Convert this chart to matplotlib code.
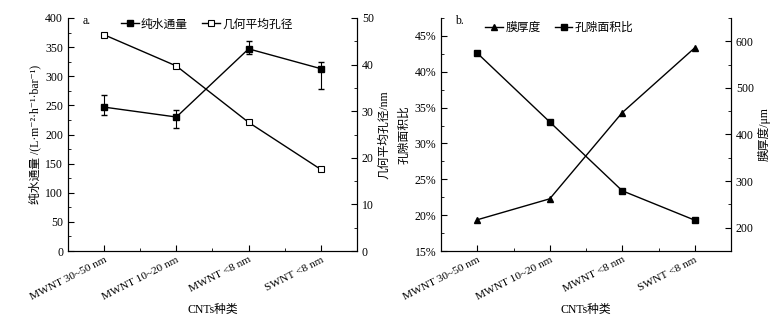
import numpy as np
import matplotlib
matplotlib.use('Agg')
import matplotlib.pyplot as plt
from matplotlib.ticker import MultipleLocator, FuncFormatter
from matplotlib.lines import Line2D

plt.rcParams['font.family'] = ['Liberation Serif', 'Noto Sans CJK SC', 'DejaVu Sans']
plt.rcParams['font.size'] = 8

# data
categories = ['MWNT 30~50 nm', 'MWNT 10~20 nm', 'MWNT <8 nm', 'SWNT <8 nm']
flux = [247, 230, 347, 313]
flux_err_low = [14, 19, 9, 35]
flux_err_high = [20, 12, 13, 11]
pore_size = [46.4, 39.7, 27.6, 17.5]
area_ratio = [42.6, 33.0, 23.4, 19.3]
thickness = [217, 262, 447, 586]

fig = plt.figure(figsize=(7.83, 3.26), dpi=100)
W, H = 783, 326
ax1 = fig.add_axes([68 / W, (H - 251) / H, (357 - 68) / W, (251 - 18) / H])
ax3 = fig.add_axes([441 / W, (H - 251) / H, (731 - 441) / W, (251 - 18) / H])
x = np.arange(len(categories))
fs = 8.5


def style(ax, tw):
    for a in (ax, tw):
        a.tick_params(which='both', direction='in', labelsize=8.5)
        a.tick_params(which='major', length=4)
        a.tick_params(which='minor', length=2)
        a.spines['top'].set_visible(False)
    ax.set_xlim(-0.5, 3.5)
    ax.set_xticks(x)
    ax.set_xticks(x[:-1] + 0.5, minor=True)
    ax.set_xticklabels(categories, rotation=27, ha='right', rotation_mode='anchor', fontsize=8.2)
    ax.tick_params(axis='x', which='major', pad=3)
    ax.set_xlabel('CNTs种类', fontsize=fs, labelpad=1.5)
    ax.tick_params(axis='x', which='both', top=False)


# panel a
tw1 = ax1.twinx()
ax1.errorbar(x, flux, yerr=[flux_err_low, flux_err_high], color='black', lw=1,
             marker='s', ms=5, mfc='black', capsize=2, elinewidth=0.8, zorder=3)
tw1.plot(x, pore_size, color='black', lw=1, marker='s', ms=5, mfc='white', mew=0.8)
ax1.set_ylim(0, 400)
ax1.yaxis.set_major_locator(MultipleLocator(50))
ax1.yaxis.set_minor_locator(MultipleLocator(25))
tw1.set_ylim(0, 50)
tw1.yaxis.set_major_locator(MultipleLocator(10))
tw1.yaxis.set_minor_locator(MultipleLocator(5))
ax1.set_ylabel('纯水通量 /(L·m⁻²·h⁻¹·bar⁻¹)', fontsize=fs, labelpad=3)
tw1.set_ylabel('几何平均孔径/nm', fontsize=fs, labelpad=3)
style(ax1, tw1)
ax1.text(0.05, 0.985, 'a.', transform=ax1.transAxes, va='center', fontsize=fs)
h1 = [Line2D([], [], color='black', lw=1, marker='s', ms=4, mfc='black'),
      Line2D([], [], color='black', lw=1, marker='s', ms=4, mfc='white', mew=0.8)]
ax1.legend(h1, ['纯水通量', '几何平均孔径'], loc='center', bbox_to_anchor=(0.48, 0.972),
           ncol=2, frameon=False, fontsize=fs, handlelength=1.5, handletextpad=0.2,
           columnspacing=1.2)

# panel b
tw3 = ax3.twinx()
ax3.plot(x, area_ratio, color='black', lw=1, marker='s', ms=5, mfc='black')
tw3.plot(x, thickness, color='black', lw=1, marker='^', ms=5, mfc='black')
ax3.set_ylim(15, 47.5)
ax3.yaxis.set_major_locator(MultipleLocator(5))
ax3.yaxis.set_minor_locator(MultipleLocator(2.5))
ax3.yaxis.set_major_formatter(FuncFormatter(lambda v, p: f'{v:.0f}%'))
tw3.set_ylim(150, 650)
tw3.yaxis.set_major_locator(MultipleLocator(100))
tw3.yaxis.set_minor_locator(MultipleLocator(50))
tw3.set_yticks([200, 300, 400, 500, 600])
ax3.set_ylabel('孔隙面积比', fontsize=fs, labelpad=3)
tw3.set_ylabel('膜厚度/μm', fontsize=fs, labelpad=3)
style(ax3, tw3)
ax3.text(0.05, 0.985, 'b.', transform=ax3.transAxes, va='center', fontsize=fs)
h3 = [Line2D([], [], color='black', lw=1, marker='^', ms=4, mfc='black'),
      Line2D([], [], color='black', lw=1, marker='s', ms=4, mfc='black')]
ax3.legend(h3, ['膜厚度', '孔隙面积比'], loc='center', bbox_to_anchor=(0.408, 0.958),
           ncol=2, frameon=False, fontsize=fs, handlelength=1.5, handletextpad=0.2,
           columnspacing=1.2)

fig.savefig('out.png', dpi=100)
